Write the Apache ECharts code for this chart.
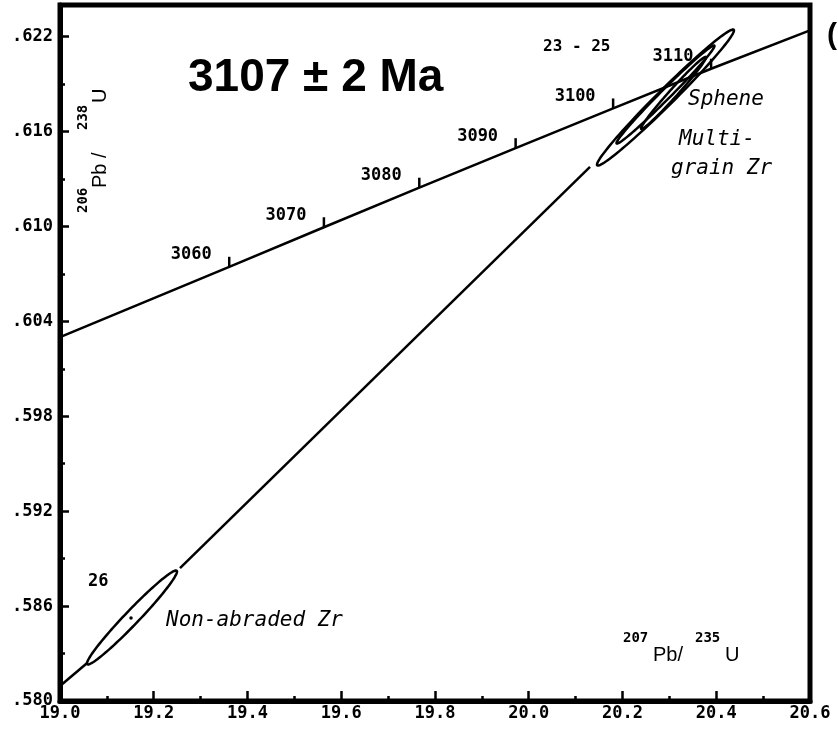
<!DOCTYPE html>
<html>
<head>
<meta charset="utf-8">
<script src="https://cdn.jsdelivr.net/npm/echarts@6/dist/echarts.min.js"></script>
<style>
html,body{margin:0;padding:0;background:#fff;}
#c{width:838px;height:729px;}
</style>
</head>
<body>
<div id="c"></div>
<script>
// ---- data ----
const xMin = 19.0, xMax = 20.6, xStep = 0.2;
const yMin = 0.580, yMax = 0.624, yStep = 0.006;

// concordia curve (207Pb/235U, 206Pb/238U)
const concX = [19.0, 19.361, 19.563, 19.7665, 19.972, 20.180, 20.389, 20.6];
const concY = [0.6030, 0.60745, 0.60995, 0.61245, 0.61495, 0.61746, 0.61997, 0.6224];

// age tick marks on concordia
const ageLabels = ['3060', '3070', '3080', '3090', '3100', '3110'];
const ageX = [19.361, 19.563, 19.7665, 19.972, 20.180, 20.389];
const ageY = [0.60745, 0.60995, 0.61245, 0.61495, 0.61746, 0.61997];

// discordia segments
const discLow = [[19.0, 0.58095], [19.058, 0.5824]];
const discHigh = [[19.256, 0.5884], [20.1307, 0.61376]];

// error ellipses: centre x, centre y, sigma x, sigma y, rho
const ellCX  = [19.1536, 20.2917, 20.2917, 20.3088];
const ellCY  = [0.58528, 0.61815, 0.61834, 0.61844];
const ellSX  = [0.096, 0.1461, 0.1045, 0.0693];
const ellSY  = [0.00297, 0.00430, 0.00310, 0.00228];
const ellRHO = [0.977, 0.986, 0.990, 0.986];

// centre dot of fraction 26
const dotPts = [[19.1515, 0.58525]];

const concData = concX.map((x, i) => [x, concY[i]]);
const ageData = ageX.map((x, i) => [x, ageY[i]]);
const ellData = ellCX.map((x, i) => [x, ellCY[i], ellSX[i], ellSY[i], ellRHO[i]]);

const MONO = '"DejaVu Sans Mono", monospace';
const SANS = '"Liberation Sans", Arial, sans-serif';

const chart = echarts.init(document.getElementById('c'), null, {renderer: 'canvas'});

const lineStyleBlack = {color: '#000', width: 2.5, opacity: 1};

chart.setOption({
  animation: false,
  backgroundColor: '#fff',
  grid: {left: 60, right: 28, top: 5, bottom: 28, show: true, borderColor: '#000', borderWidth: 5, containLabel: false},
  xAxis: {
    type: 'value', min: xMin, max: xMax, interval: xStep,
    axisLine: {show: true, lineStyle: {color: '#000', width: 5}},
    axisTick: {show: true, inside: true, length: 10, lineStyle: {color: '#000', width: 2.5}},
    minorTick: {show: true, splitNumber: 2, length: 5, lineStyle: {color: '#000', width: 2.5}},
    splitLine: {show: false},
    axisLabel: {
      margin: 4, color: '#000', fontFamily: MONO, fontWeight: 'bold', fontSize: 17,
      formatter: v => v.toFixed(1)
    }
  },
  yAxis: {
    type: 'value', min: yMin, max: yMax, interval: yStep,
    axisLine: {show: true, lineStyle: {color: '#000', width: 5}},
    axisTick: {show: true, inside: true, length: 9, lineStyle: {color: '#000', width: 2.5}},
    minorTick: {show: true, splitNumber: 2, length: 5, lineStyle: {color: '#000', width: 2.5}},
    splitLine: {show: false},
    axisLabel: {
      margin: 7, color: '#000', fontFamily: MONO, fontWeight: 'bold', fontSize: 17,
      showMaxLabel: false,
      formatter: v => '.' + v.toFixed(3).split('.')[1]
    }
  },
  series: [
    {
      type: 'line', data: concData, symbol: 'none', showSymbol: false,
      lineStyle: lineStyleBlack, clip: true, silent: true
    },
    {
      type: 'line', data: discLow, symbol: 'none', showSymbol: false,
      lineStyle: lineStyleBlack, clip: true, silent: true
    },
    {
      type: 'line', data: discHigh, symbol: 'none', showSymbol: false,
      lineStyle: lineStyleBlack, clip: true, silent: true
    },
    {
      type: 'scatter', data: ageData, symbol: 'rect', symbolSize: [2.5, 10], symbolOffset: [0, -5],
      itemStyle: {color: '#000', opacity: 1}, silent: true,
      label: {
        show: true, position: 'inside', offset: [-38, -7], opacity: 1,
        formatter: p => ageLabels[p.dataIndex],
        color: '#000', fontFamily: MONO, fontWeight: 'bold', fontSize: 17
      }
    },
    {
      type: 'scatter', data: dotPts, symbol: 'circle', symbolSize: 3.5,
      itemStyle: {color: '#000', opacity: 1}, silent: true
    },
    {
      type: 'custom', data: ellData, encode: {x: 0, y: 1}, silent: true,
      renderItem: function (params, api) {
        const cx = api.value(0), cy = api.value(1), sx = api.value(2), sy = api.value(3), r = api.value(4);
        const q = Math.sqrt(1 - r * r);
        const pts = [];
        for (let k = 0; k < 120; k++) {
          const t = k / 120 * Math.PI * 2;
          const x = cx + sx * Math.cos(t);
          const y = cy + sy * (r * Math.cos(t) + q * Math.sin(t));
          pts.push(api.coord([x, y]));
        }
        return {type: 'polygon', shape: {points: pts}, style: {fill: 'none', stroke: '#000', lineWidth: 2.5}};
      }
    }
  ],
  graphic: [
    {type: 'text', left: 188, top: 81 - 26, style: {text: '3107 \u00b1 2 Ma', font: 'bold 46px ' + SANS, fill: '#000'}},
    // x axis name
    {type: 'text', x: 623, y: 638, style: {text: '207', font: 'bold 14px ' + MONO, fill: '#000', verticalAlign: 'middle'}},
    {type: 'text', x: 653, y: 655, style: {text: 'Pb/', font: '20px ' + SANS, fill: '#000', verticalAlign: 'middle'}},
    {type: 'text', x: 695, y: 638, style: {text: '235', font: 'bold 14px ' + MONO, fill: '#000', verticalAlign: 'middle'}},
    {type: 'text', x: 725, y: 655, style: {text: 'U', font: '20px ' + SANS, fill: '#000', verticalAlign: 'middle'}},
    // y axis name (rotated)
    {
      type: 'group', x: 100, y: 213, rotation: Math.PI / 2,
      children: [
        {type: 'text', x: 0, y: -17, style: {text: '206', font: 'bold 14px ' + MONO, fill: '#000', verticalAlign: 'middle'}},
        {type: 'text', x: 25, y: 0, style: {text: 'Pb /', font: '20px ' + SANS, fill: '#000', verticalAlign: 'middle'}},
        {type: 'text', x: 83, y: -17, style: {text: '238', font: 'bold 14px ' + MONO, fill: '#000', verticalAlign: 'middle'}},
        {type: 'text', x: 110, y: 0, style: {text: 'U', font: '20px ' + SANS, fill: '#000', verticalAlign: 'middle'}}
      ]
    },
    // annotations
    {type: 'text', x: 543, y: 47, style: {text: '23 - 25', font: 'bold 16px ' + MONO, fill: '#000', verticalAlign: 'middle'}},
    {type: 'text', x: 88, y: 582, style: {text: '26', font: 'bold 17px ' + MONO, fill: '#000', verticalAlign: 'middle'}},
    {type: 'text', x: 688, y: 100, style: {text: 'Sphene', font: 'italic 21px ' + MONO, fill: '#000', verticalAlign: 'middle'}},
    {type: 'text', x: 679, y: 140, style: {text: 'Multi-', font: 'italic 21px ' + MONO, fill: '#000', verticalAlign: 'middle'}},
    {type: 'text', x: 671, y: 169, style: {text: 'grain Zr', font: 'italic 21px ' + MONO, fill: '#000', verticalAlign: 'middle'}},
    {type: 'text', x: 166, y: 621, style: {text: 'Non-abraded Zr', font: 'italic 21px ' + MONO, fill: '#000', verticalAlign: 'middle'}},
    {type: 'text', x: 827, y: 36, style: {text: '(', font: 'bold 30px ' + SANS, fill: '#000', verticalAlign: 'middle'}}
  ]
});
</script>
</body>
</html>
